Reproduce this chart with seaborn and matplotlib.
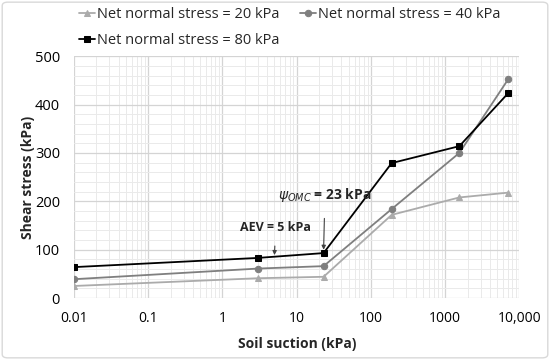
import numpy as np
import pandas as pd
import matplotlib
matplotlib.use("Agg")
import matplotlib.pyplot as plt
import seaborn as sns
from matplotlib.ticker import FixedLocator, FuncFormatter, MultipleLocator, LogLocator, NullFormatter
from matplotlib.patches import FancyBboxPatch

suction = [0.01, 3, 23, 190, 1550, 7100]
stress_20 = [25, 41, 44, 172, 208, 218]
stress_40 = [39, 61, 66, 184, 300, 453]
stress_80 = [64, 83, 93, 279, 314, 424]
series_names = ['Net normal stress = 20 kPa', 'Net normal stress = 40 kPa', 'Net normal stress = 80 kPa']
x_ticks = [0.01, 0.1, 1, 10, 100, 1000, 10000]
x_ticklabels = ['0.01', '0.1', '1', '10', '100', '1000', '10,000']

df = pd.DataFrame({
    'suction': suction * 3,
    'stress': stress_20 + stress_40 + stress_80,
    'series': [series_names[0]] * 6 + [series_names[1]] * 6 + [series_names[2]] * 6,
})

sns.set_style('white')
plt.rcParams['font.family'] = ['Open Sans', 'DejaVu Sans']

fig = plt.figure(figsize=(5.5, 3.6), dpi=100)
ax = fig.add_axes([0.1345, 0.172, 0.81, 0.672])

colors = ['#ABABAB', '#7F7F7F', '#000000']
markers = ['^', 'o', 's']
for name, c, m in zip(series_names, colors, markers):
    sub = df[df['series'] == name]
    sns.lineplot(data=sub, x='suction', y='stress', color=c, marker=m, markersize=4.6,
                 markeredgecolor=c, linewidth=1.3, label=name, ax=ax)

ax.set_xscale('log')
ax.set_xlim(0.01, 10000)
ax.set_ylim(0, 500)
ax.xaxis.set_major_locator(FixedLocator(x_ticks))
ax.xaxis.set_major_formatter(FuncFormatter(lambda v, p: x_ticklabels[x_ticks.index(v)] if v in x_ticks else ''))
ax.xaxis.set_minor_locator(LogLocator(base=10, subs=np.arange(2, 10)))
ax.xaxis.set_minor_formatter(NullFormatter())
ax.yaxis.set_major_locator(MultipleLocator(100))
ax.yaxis.set_minor_locator(MultipleLocator(20))
ax.grid(which='major', color='#D4D4D4', linewidth=0.9)
ax.grid(which='minor', color='#EAEAEA', linewidth=0.7)
ax.set_axisbelow(True)
for s in ax.spines.values():
    s.set_visible(False)
ax.tick_params(axis='x', which='both', length=0, labelsize=10, colors='#000000', pad=9)
ax.tick_params(axis='y', which='both', length=0, labelsize=10.5, colors='#000000', pad=10)

ax.set_xlabel('Soil suction (kPa)', fontsize=10, fontweight='bold', labelpad=8)
ax.set_ylabel('Shear stress (kPa)', fontsize=10, fontweight='bold', labelpad=0)

ax.annotate('AEV = 5 kPa', xy=(5, 86), xytext=(5.2, 145), ha='center', va='center',
            fontsize=9, fontweight='bold',
            arrowprops=dict(arrowstyle='-|>', color='#404040', lw=0.8, mutation_scale=6,
                            shrinkA=6, shrinkB=1))
ax.annotate(r'$\psi_{OMC}$ = 23 kPa', xy=(23, 97), xytext=(24, 213), ha='center', va='center',
            fontsize=10, fontweight='bold',
            arrowprops=dict(arrowstyle='-|>', color='#404040', lw=0.8, mutation_scale=6,
                            shrinkA=8, shrinkB=1))

handles, labels = ax.get_legend_handles_labels()
order = [0, 2, 1]
ax.legend([handles[i] for i in order], [labels[i] for i in order], ncol=2, frameon=False,
          loc='upper left', bbox_to_anchor=(0.13, 1.0), bbox_transform=fig.transFigure,
          fontsize=10.5, handlelength=1.1, handletextpad=0.15, columnspacing=1.4,
          labelspacing=0.75, borderaxespad=0.1)

fig.patches.append(FancyBboxPatch((0.004, 0.006), 0.992, 0.988, boxstyle='round,pad=0,rounding_size=0.01',
                                  transform=fig.transFigure, facecolor='none', edgecolor='#D9D9D9', lw=1))

fig.savefig('out.png', dpi=100)
